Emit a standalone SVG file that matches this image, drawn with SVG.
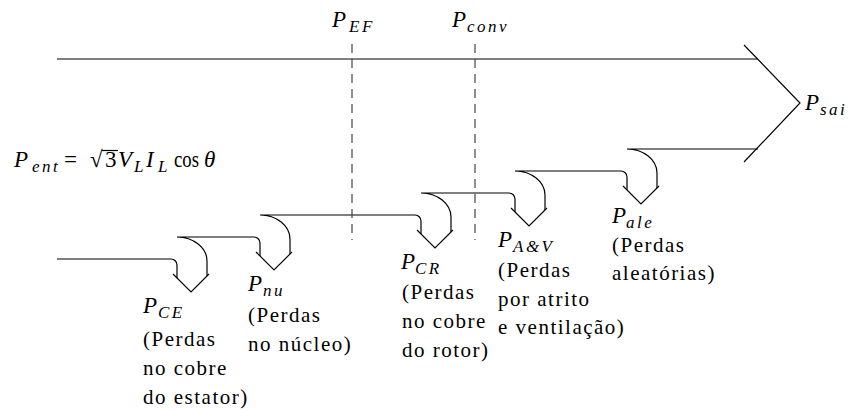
<svg xmlns="http://www.w3.org/2000/svg" width="849" height="411" viewBox="0 0 849 411">
  <style>
    .ln { fill: none; stroke: #000; stroke-width: 1.2; }
    .cut { fill: none; stroke: #444; stroke-width: 1.2; stroke-dasharray: 9 6; }
    .m { font-style: italic; font-size: 23px; }
    .s { font-style: italic; font-size: 17px; letter-spacing: 2.5px; }
    .r { font-size: 23px; }
    .i { font-style: italic; }
    .t { font-size: 21px; letter-spacing: 1.5px; }
  </style>
  <rect width="849" height="411" fill="#fff"/>

  <!-- power flow lines, loss branches and arrowheads -->
  <g id="connectors">
    <!-- top input-to-output line and output chevron -->
    <path class="ln" d="M57,59 H758"/>
    <path class="ln" d="M744,45 L800,103 L744,162"/>
    <!-- lower flow: input line into first loss arrow -->
    <path class="ln" d="M57,259 H171 A6,6 0 0 1 177,265 V278"/>
    <!-- stage branches: each curves down into one loss arrow and continues to the next -->
    <path class="ln" d="M207,276 V261 C207,247.8 193.5,237 177,237 H254 A6,6 0 0 1 260,243 V256"/>
    <path class="ln" d="M290,254 V239 C290,225.8 276.5,215 260,215 H415 A6,6 0 0 1 421,221 V234"/>
    <path class="ln" d="M451,232 V217 C451,203.8 437.5,193 421,193 H509 A6,6 0 0 1 515,199 V212"/>
    <path class="ln" d="M545,210 V195 C545,181.8 531.5,171 515,171 H621 A6,6 0 0 1 627,177 V190"/>
    <path class="ln" d="M657,188 V173 C657,159.8 643.5,149 627,149 H758"/>
    <!-- arrowheads -->
    <path class="ln" d="M173,274 L191,292 L209,274"/>
    <path class="ln" d="M256,252 L274,270 L292,252"/>
    <path class="ln" d="M417,230 L435,248 L453,230"/>
    <path class="ln" d="M511,208 L529,226 L547,208"/>
    <path class="ln" d="M623,186 L641,204 L659,186"/>
    <!-- dashed cut lines -->
    <path class="cut" d="M352,44 V240"/>
    <path class="cut" d="M475,44 V240"/>
  </g>

  <g font-family="Liberation Serif, Times New Roman, serif" fill="#000">
    <g id="p-ef">
      <text class="m" x="332" y="27">P</text>
      <text class="s" x="349" y="32">EF</text>
    </g>
    <g id="p-conv">
      <text class="m" x="452" y="27">P</text>
      <text class="s" x="467" y="32">conv</text>
    </g>
    <g id="p-sai">
      <text class="m" x="805" y="110">P</text>
      <text class="s" x="820" y="115">sai</text>
    </g>

    <g id="p-ent">
      <text class="r i" x="14" y="167">P</text>
      <text class="s" x="32" y="172">ent</text>
      <text class="r" x="64" y="167">=</text>
      <text class="r" x="90" y="167">√</text>
      <line x1="102" y1="150.5" x2="118" y2="150.5" stroke="#000" stroke-width="1.2"/>
      <text class="r" x="105" y="167">3</text>
      <text class="r i" x="118" y="167">V</text>
      <text class="s" x="134" y="172">L</text>
      <text class="r i" x="146" y="167">I</text>
      <text class="s" x="158" y="172">L</text>
      <text class="r" x="174" y="167" textLength="25" lengthAdjust="spacingAndGlyphs">cos</text>
      <text class="r i" x="204" y="167">θ</text>
    </g>

    <g id="p-ce">
      <text class="m" x="143" y="313">P</text>
      <text class="s" x="158" y="318">CE</text>
      <text class="t" x="143" y="346">(Perdas</text>
      <text class="t" x="143" y="375">no cobre</text>
      <text class="t" x="143" y="404">do estator)</text>
    </g>
    <g id="p-nu">
      <text class="m" x="248" y="291">P</text>
      <text class="s" x="263" y="296">nu</text>
      <text class="t" x="248" y="322">(Perdas</text>
      <text class="t" x="248" y="351">no núcleo)</text>
    </g>
    <g id="p-cr">
      <text class="m" x="401" y="269">P</text>
      <text class="s" x="415" y="274">CR</text>
      <text class="t" x="402" y="299">(Perdas</text>
      <text class="t" x="402" y="328">no cobre</text>
      <text class="t" x="402" y="357">do rotor)</text>
    </g>
    <g id="p-av">
      <text class="m" x="498" y="247">P</text>
      <text class="s" x="513" y="252">A&amp;V</text>
      <text class="t" x="498" y="277">(Perdas</text>
      <text class="t" x="498" y="306">por atrito</text>
      <text class="t" x="498" y="334">e ventilação)</text>
    </g>
    <g id="p-ale">
      <text class="m" x="612" y="223">P</text>
      <text class="s" x="626" y="228">ale</text>
      <text class="t" x="612" y="252">(Perdas</text>
      <text class="t" x="612" y="280">aleatórias)</text>
    </g>
  </g>
</svg>
